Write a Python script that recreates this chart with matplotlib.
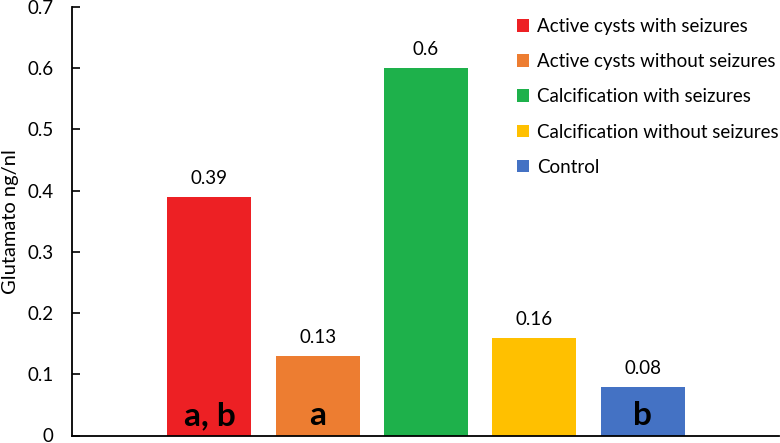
import matplotlib

matplotlib.use("Agg")

import matplotlib.pyplot as plt  # noqa: E402
from matplotlib.patches import Patch  # noqa: E402

plt.rcParams["font.family"] = ["Lato", "DejaVu Sans"]

# data
groups = [
    "Active cysts with seizures",
    "Active cysts without seizures",
    "Calcification with seizures",
    "Calcification without seizures",
    "Control",
]
values = [0.39, 0.13, 0.60, 0.16, 0.08]
value_labels = ["0.39", "0.13", "0.6", "0.16", "0.08"]
sig_letters = ["a, b", "a", "", "", "b"]
colors = ["#ED2024", "#ED7D31", "#1EB14B", "#FFC000", "#4472C4"]

fig = plt.figure(figsize=(7.8, 4.43), dpi=100)
ax = fig.add_axes([72.3 / 780, 7.5 / 443, (779 - 72.3) / 780, (435.5 - 6.75) / 443])

x = list(range(len(values)))
ax.bar(x, values, width=0.776, color=colors, zorder=2)

for xi, v, lab, letter in zip(x, values, value_labels, sig_letters):
    ax.annotate(lab, (xi, v), xytext=(0, 7), textcoords="offset points",
                ha="center", va="bottom", fontsize=13.5, color="black")
    if letter:
        ax.text(xi, 0.032, letter, ha="center", va="center",
                fontsize=24, fontweight="bold", color="black")

ax.set_xlim(-1.267, 5.26)
ax.set_ylim(0, 0.7)
ax.set_yticks([0, 0.1, 0.2, 0.3, 0.4, 0.5, 0.6, 0.7])
ax.set_yticklabels(["0", "0.1", "0.2", "0.3", "0.4", "0.5", "0.6", "0.7"])
ax.set_xticks([])
ax.tick_params(axis="y", direction="in", length=6, width=1.2,
               labelsize=13.5, pad=13.5)
ax.set_ylabel("Glutamato ng/nl", fontsize=14.5)
ax.yaxis.set_label_coords(-0.075, 0.498)

for side in ("top", "right"):
    ax.spines[side].set_visible(False)
for side in ("left", "bottom"):
    ax.spines[side].set_linewidth(1.3)
    ax.spines[side].set_color("black")

handles = [Patch(facecolor=c, edgecolor="none") for c in colors]
fig.legend(handles, groups, loc="upper left",
           bbox_to_anchor=(517 / 780, 1 - 18 / 443),
           frameon=False, fontsize=13.5, handlelength=0.66, handleheight=0.66,
           handletextpad=0.4, labelspacing=0.97, borderpad=0, borderaxespad=0)

fig.savefig("out.png", dpi=100)
plt.close(fig)
